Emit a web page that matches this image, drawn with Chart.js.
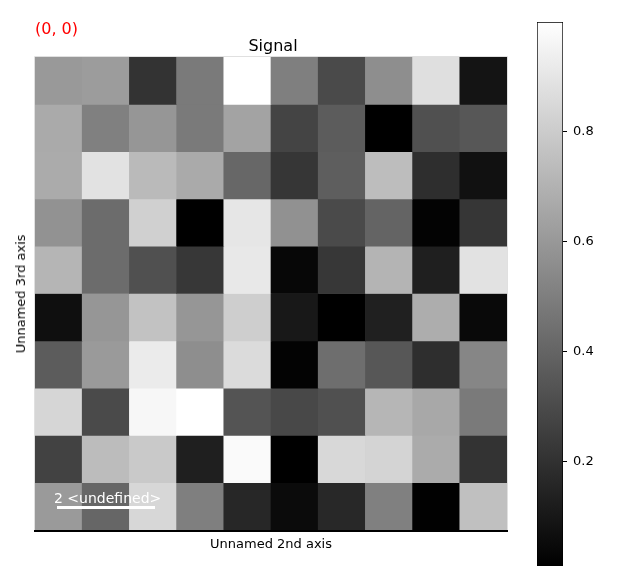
<!DOCTYPE html>
<html>
<head>
<meta charset="utf-8">
<script src="https://cdn.jsdelivr.net/npm/chart.js@4"></script>
<style>
  html, body { margin: 0; padding: 0; background: #fff; }
  body { width: 640px; height: 581px; position: relative; overflow: hidden; font-family: "DejaVu Sans", sans-serif; }
  #main { position: absolute; left: 0; top: 0; }
  #cbar { position: absolute; left: 537px; top: 0; }
  .txt { position: absolute; white-space: nowrap; line-height: 1; }
</style>
</head>
<body>
<canvas id="main" width="640" height="581"></canvas>
<canvas id="cbar" width="103" height="581"></canvas>
<div class="txt" style="left:35px; top:21px; font-size:16px; color:#ff0000;">(0, 0)</div>
<div class="txt" style="left:273px; top:38px; font-size:16px; color:#000; transform:translateX(-50%);">Signal</div>
<div class="txt" style="left:271px; top:537px; font-size:13px; color:#000; transform:translateX(-50%);">Unnamed 2nd axis</div>
<div class="txt" style="left:14px; top:294px; font-size:13px; color:#000; writing-mode:vertical-rl; transform:translateY(-50%) rotate(180deg);">Unnamed 3rd axis</div>
<div class="txt" style="left:54px; top:491px; font-size:14px; color:#fff;">2 &lt;undefined&gt;</div>
<div style="position:absolute; left:57px; top:506px; width:98px; height:3px; background:#fff;"></div>
<script>
// ---- data ----
const columns = ["0","1","2","3","4","5","6","7","8","9"];
const rowIndex = [0,1,2,3,4,5,6,7,8,9];
const row0 = [0.604, 0.616, 0.208, 0.484, 1.000, 0.503, 0.297, 0.561, 0.876, 0.088];
const row1 = [0.670, 0.507, 0.592, 0.484, 0.643, 0.274, 0.367, 0.010, 0.321, 0.348];
const row2 = [0.674, 0.887, 0.732, 0.670, 0.410, 0.220, 0.375, 0.744, 0.189, 0.076];
const row3 = [0.577, 0.429, 0.817, 0.010, 0.903, 0.573, 0.297, 0.398, 0.022, 0.220];
const row4 = [0.713, 0.429, 0.321, 0.224, 0.911, 0.037, 0.224, 0.709, 0.130, 0.887];
const row5 = [0.068, 0.592, 0.763, 0.592, 0.810, 0.103, 0.010, 0.134, 0.682, 0.045];
const row6 = [0.367, 0.608, 0.922, 0.561, 0.860, 0.022, 0.437, 0.348, 0.189, 0.530];
const row7 = [0.841, 0.297, 0.969, 1.000, 0.336, 0.290, 0.321, 0.717, 0.662, 0.484];
const row8 = [0.266, 0.740, 0.790, 0.130, 0.981, 0.010, 0.849, 0.833, 0.674, 0.208];
const row9 = [0.608, 0.406, 0.845, 0.503, 0.161, 0.053, 0.165, 0.507, 0.014, 0.755];
const rows = [row0, row1, row2, row3, row4, row5, row6, row7, row8, row9];
const colorbarTicks = [0.2, 0.4, 0.6, 0.8];

const all = rows.flat();
const vmin = Math.min(...all);
const vmax = Math.max(...all);

function gray(v) {
  const g = Math.round(Math.max(0, Math.min(1, (v - vmin) / (vmax - vmin))) * 255);
  return `rgb(${g},${g},${g})`;
}

const datasets = rows.map((r, i) => ({
  label: 'row ' + rowIndex[i],
  data: r.map(() => [rowIndex[i], rowIndex[i] + 1]),
  backgroundColor: r.map(gray),
  borderWidth: 0,
  categoryPercentage: 1.0,
  barPercentage: 1.0
}));

const framePlugin = {
  id: 'frame',
  afterDraw(chart) {
    const a = chart.chartArea, ctx = chart.ctx;
    ctx.save();
    ctx.strokeStyle = '#e0e0e0';
    ctx.lineWidth = 1;
    ctx.beginPath();
    ctx.moveTo(a.left - 0.5, a.bottom);
    ctx.lineTo(a.left - 0.5, a.top - 0.5);
    ctx.lineTo(a.right + 0.5, a.top - 0.5);
    ctx.lineTo(a.right + 0.5, a.bottom);
    ctx.stroke();
    ctx.strokeStyle = '#000';
    ctx.lineWidth = 2;
    ctx.beginPath();
    ctx.moveTo(a.left - 1, a.bottom + 1);
    ctx.lineTo(a.right + 1, a.bottom + 1);
    ctx.stroke();
    ctx.restore();
  }
};

new Chart(document.getElementById('main'), {
  type: 'bar',
  data: { labels: columns, datasets },
  options: {
    responsive: false,
    animation: false,
    grouped: false,
    layout: { padding: { left: 35, top: 57, right: 133, bottom: 51 } },
    plugins: { legend: { display: false }, tooltip: { enabled: false }, title: { display: false } },
    scales: {
      x: { display: false, offset: true },
      y: { display: false, min: 0, max: 10, reverse: true }
    }
  },
  plugins: [framePlugin]
});

new Chart(document.getElementById('cbar'), {
  type: 'bar',
  data: {
    labels: ['cb'],
    datasets: [{
      data: [[vmin, vmax]],
      backgroundColor(ctx) {
        const chart = ctx.chart;
        if (!chart.chartArea) return '#888';
        const y = chart.scales.y;
        const g = chart.ctx.createLinearGradient(0, y.getPixelForValue(vmin), 0, y.getPixelForValue(vmax));
        g.addColorStop(0, '#000');
        g.addColorStop(1, '#fff');
        return g;
      },
      borderColor: '#000',
      borderWidth: 1,
      borderSkipped: false,
      categoryPercentage: 1.0,
      barPercentage: 1.0
    }]
  },
  options: {
    responsive: false,
    animation: false,
    layout: { padding: { left: 0, top: 22, right: 0, bottom: 15 } },
    plugins: { legend: { display: false }, tooltip: { enabled: false } },
    scales: {
      x: { display: false },
      y: {
        position: 'right',
        min: vmin, max: vmax,
        afterFit(scale) { scale.width = 103 - 26; },
        afterBuildTicks(scale) { scale.ticks = colorbarTicks.map(v => ({ value: v })); },
        border: { display: false },
        grid: { drawOnChartArea: false, drawTicks: true, tickLength: 4, color: '#000', tickWidth: 1 },
        ticks: {
          color: '#000', padding: 6,
          font: { family: 'DejaVu Sans', size: 13 },
          callback: v => v.toFixed(1)
        }
      }
    }
  }
});
</script>
</body>
</html>
